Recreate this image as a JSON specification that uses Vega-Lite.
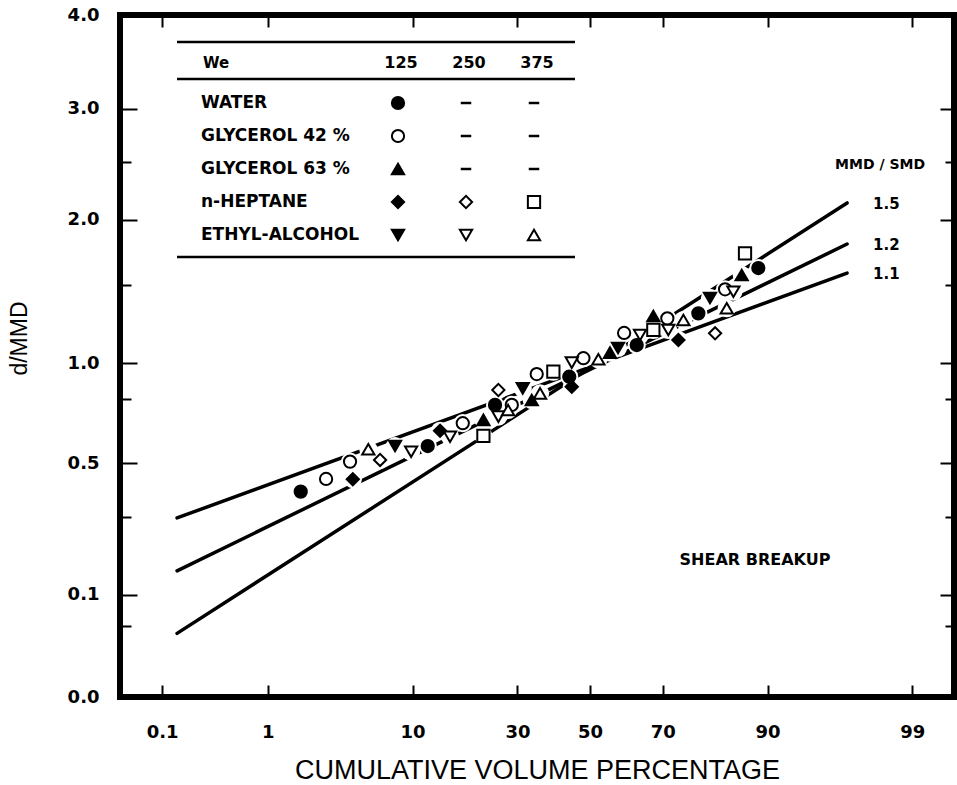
{
  "$schema": "https://vega.github.io/schema/vega-lite/v6.json",
  "width": 834,
  "height": 682,
  "autosize": {"type": "none"},
  "padding": {"left": 120, "top": 15, "right": 3, "bottom": 88},
  "background": "white",
  "config": {
    "view": {"stroke": "black", "strokeWidth": 6},
    "axis": {"grid": false, "domain": false, "tickColor": "black", "tickWidth": 2, "labelColor": "black", "titleColor": "black"}
  },
  "datasets": {
    "points": [
      {"series": "WATER 125", "z": -2.089, "d": 0.389},
      {"series": "WATER 125", "z": -1.172, "d": 0.574},
      {"series": "WATER 125", "z": -0.686, "d": 0.771},
      {"series": "WATER 125", "z": -0.150, "d": 0.922},
      {"series": "WATER 125", "z": 0.337, "d": 1.107},
      {"series": "WATER 125", "z": 0.782, "d": 1.309},
      {"series": "WATER 125", "z": 1.215, "d": 1.626},
      {"series": "GLYCEROL 42 % 125", "z": -1.906, "d": 0.437},
      {"series": "GLYCEROL 42 % 125", "z": -1.733, "d": 0.507},
      {"series": "GLYCEROL 42 % 125", "z": -0.919, "d": 0.680},
      {"series": "GLYCEROL 42 % 125", "z": -0.565, "d": 0.771},
      {"series": "GLYCEROL 42 % 125", "z": -0.385, "d": 0.937},
      {"series": "GLYCEROL 42 % 125", "z": -0.048, "d": 1.028},
      {"series": "GLYCEROL 42 % 125", "z": 0.246, "d": 1.182},
      {"series": "GLYCEROL 42 % 125", "z": 0.558, "d": 1.276},
      {"series": "GLYCEROL 42 % 125", "z": 0.975, "d": 1.473},
      {"series": "GLYCEROL 63 % 125", "z": -0.770, "d": 0.696},
      {"series": "GLYCEROL 63 % 125", "z": -0.421, "d": 0.796},
      {"series": "GLYCEROL 63 % 125", "z": 0.144, "d": 1.061},
      {"series": "GLYCEROL 63 % 125", "z": 0.457, "d": 1.291},
      {"series": "GLYCEROL 63 % 125", "z": 1.095, "d": 1.575},
      {"series": "n-HEPTANE 125", "z": -1.713, "d": 0.436},
      {"series": "n-HEPTANE 125", "z": -1.083, "d": 0.644},
      {"series": "n-HEPTANE 125", "z": -0.132, "d": 0.867},
      {"series": "n-HEPTANE 125", "z": 0.638, "d": 1.138},
      {"series": "n-HEPTANE 250", "z": -1.516, "d": 0.514},
      {"series": "n-HEPTANE 250", "z": -0.662, "d": 0.849},
      {"series": "n-HEPTANE 250", "z": 0.903, "d": 1.180},
      {"series": "n-HEPTANE 375", "z": -0.770, "d": 0.620},
      {"series": "n-HEPTANE 375", "z": -0.265, "d": 0.950},
      {"series": "n-HEPTANE 375", "z": 0.457, "d": 1.201},
      {"series": "n-HEPTANE 375", "z": 1.119, "d": 1.736},
      {"series": "ETHYL-ALCOHOL 125", "z": -1.408, "d": 0.574},
      {"series": "ETHYL-ALCOHOL 125", "z": -0.486, "d": 0.858},
      {"series": "ETHYL-ALCOHOL 125", "z": 0.202, "d": 1.089},
      {"series": "ETHYL-ALCOHOL 125", "z": 0.866, "d": 1.413},
      {"series": "ETHYL-ALCOHOL 250", "z": -1.292, "d": 0.549},
      {"series": "ETHYL-ALCOHOL 250", "z": -1.011, "d": 0.616},
      {"series": "ETHYL-ALCOHOL 250", "z": -0.662, "d": 0.712},
      {"series": "ETHYL-ALCOHOL 250", "z": -0.132, "d": 1.002},
      {"series": "ETHYL-ALCOHOL 250", "z": 0.361, "d": 1.169},
      {"series": "ETHYL-ALCOHOL 250", "z": 0.565, "d": 1.201},
      {"series": "ETHYL-ALCOHOL 250", "z": 1.035, "d": 1.456},
      {"series": "ETHYL-ALCOHOL 375", "z": -1.601, "d": 0.560},
      {"series": "ETHYL-ALCOHOL 375", "z": -0.592, "d": 0.745},
      {"series": "ETHYL-ALCOHOL 375", "z": -0.361, "d": 0.831},
      {"series": "ETHYL-ALCOHOL 375", "z": 0.060, "d": 1.022},
      {"series": "ETHYL-ALCOHOL 375", "z": 0.674, "d": 1.265},
      {"series": "ETHYL-ALCOHOL 375", "z": 0.987, "d": 1.343}
    ],
    "curves": [
      {"ratio": "1.5", "end": "left", "z": -2.982, "d": 0.040},
      {"ratio": "1.5", "end": "right", "z": 1.856, "d": 2.139},
      {"ratio": "1.2", "end": "left", "z": -2.982, "d": 0.151},
      {"ratio": "1.2", "end": "right", "z": 1.856, "d": 1.807},
      {"ratio": "1.1", "end": "left", "z": -2.982, "d": 0.298},
      {"ratio": "1.1", "end": "right", "z": 1.856, "d": 1.589}
    ],
    "legend_cells": [
      {"liquid": "WATER", "we": "125", "series": "WATER 125"},
      {"liquid": "GLYCEROL 42 %", "we": "125", "series": "GLYCEROL 42 % 125"},
      {"liquid": "GLYCEROL 63 %", "we": "125", "series": "GLYCEROL 63 % 125"},
      {"liquid": "n-HEPTANE", "we": "125", "series": "n-HEPTANE 125"},
      {"liquid": "n-HEPTANE", "we": "250", "series": "n-HEPTANE 250"},
      {"liquid": "n-HEPTANE", "we": "375", "series": "n-HEPTANE 375"},
      {"liquid": "ETHYL-ALCOHOL", "we": "125", "series": "ETHYL-ALCOHOL 125"},
      {"liquid": "ETHYL-ALCOHOL", "we": "250", "series": "ETHYL-ALCOHOL 250"},
      {"liquid": "ETHYL-ALCOHOL", "we": "375", "series": "ETHYL-ALCOHOL 375"}
    ],
    "legend_dashes": [
      {"liquid": "WATER", "we": "250"},
      {"liquid": "WATER", "we": "375"},
      {"liquid": "GLYCEROL 42 %", "we": "250"},
      {"liquid": "GLYCEROL 42 %", "we": "375"},
      {"liquid": "GLYCEROL 63 %", "we": "250"},
      {"liquid": "GLYCEROL 63 %", "we": "375"}
    ],
    "legend_header": [
      {"we": "125"},
      {"we": "250"},
      {"we": "375"}
    ]
  },
  "layer": [
    {
      "layer": [
        {
          "data": {"name": "curves"},
          "mark": {"type": "line", "color": "black", "strokeWidth": 3.5, "strokeCap": "round"},
          "encoding": {
            "x": {
              "field": "z", "type": "quantitative",
              "scale": {"domain": [-3.394, 2.628], "nice": false, "zero": false},
              "axis": {
                "orient": "bottom",
                "values": [-3.0902, -2.3263, -1.2816, -0.5244, 0, 0.5244, 1.2816, 2.3263],
                "labelExpr": "datum.value < -3 ? '0.1' : datum.value < -2 ? '1' : datum.value < -1 ? '10' : datum.value < -0.2 ? '30' : datum.value < 0.2 ? '50' : datum.value < 1 ? '70' : datum.value < 2 ? '90' : '99'",
                "tickSize": -12,
                "labelPadding": 38,
                "labelFont": "DejaVu Sans",
                "labelFontWeight": "bold",
                "labelFontSize": 18,
                "labelFlush": false,
                "labelOverlap": false,
                "title": "CUMULATIVE VOLUME PERCENTAGE",
                "titleFont": "Liberation Sans",
                "titleFontWeight": "normal",
                "titleFontSize": 27,
                "titlePadding": 16
              }
            },
            "y": {
              "field": "d", "type": "quantitative",
              "scale": {"type": "pow", "exponent": 0.515, "domain": [0, 4], "nice": false, "zero": false},
              "axis": {
                "orient": "left",
                "values": [0, 0.05, 0.1, 0.3, 0.5, 0.8, 1, 1.5, 2, 2.5, 3, 4],
                "labelExpr": "indexof([0.05, 0.3, 0.8, 1.5, 2.5], datum.value) >= 0 ? '' : format(datum.value, '.1f')",
                "tickSize": {"condition": {"test": "indexof([0.05, 0.3, 0.8, 1.5, 2.5], datum.value) >= 0", "value": -11}, "value": -17},
                "labelPadding": 38,
                "labelFont": "DejaVu Sans",
                "labelFontWeight": "bold",
                "labelFontSize": 18,
                "labelFlush": false,
                "labelOverlap": false,
                "title": "d/MMD",
                "titleFont": "Liberation Sans",
                "titleFontWeight": "normal",
                "titleFontSize": 23,
                "titlePadding": 36,
                "titleY": 323
              }
            },
            "detail": {"field": "ratio"}
          }
        },
        {
          "data": {"name": "points"},
          "mark": {"type": "point", "filled": true, "fill": "white", "size": 330, "shape": "circle", "opacity": 1},
          "encoding": {
            "x": {"field": "z", "type": "quantitative", "scale": {"domain": [-3.394, 2.628], "nice": false, "zero": false}, "axis": null},
            "y": {"field": "d", "type": "quantitative", "scale": {"type": "pow", "exponent": 0.515, "domain": [0, 4], "nice": false, "zero": false}, "axis": null}
          }
        },
        {
          "data": {"name": "points"},
          "mark": {"type": "point", "filled": true, "stroke": "black", "strokeWidth": 2, "size": 150, "opacity": 1},
          "encoding": {
            "x": {
              "field": "z", "type": "quantitative",
              "scale": {"domain": [-3.394, 2.628], "nice": false, "zero": false},
              "axis": {
                "orient": "top",
                "values": [-3.0902, -2.3263, -1.2816, -0.5244, 0, 0.5244, 1.2816, 2.3263],
                "labels": false,
                "tickSize": -12,
                "title": null
              }
            },
            "y": {
              "field": "d", "type": "quantitative",
              "scale": {"type": "pow", "exponent": 0.515, "domain": [0, 4], "nice": false, "zero": false},
              "axis": {
                "orient": "right",
                "values": [0, 0.05, 0.1, 0.3, 0.5, 0.8, 1, 1.5, 2, 2.5, 3, 4],
                "labels": false,
                "tickSize": {"condition": {"test": "indexof([0.05, 0.3, 0.8, 1.5, 2.5], datum.value) >= 0", "value": -9}, "value": -14},
                "title": null
              }
            },
            "shape": {
              "field": "series", "type": "nominal", "legend": null,
              "scale": {
                "domain": ["WATER 125", "GLYCEROL 42 % 125", "GLYCEROL 63 % 125", "n-HEPTANE 125", "n-HEPTANE 250", "n-HEPTANE 375", "ETHYL-ALCOHOL 125", "ETHYL-ALCOHOL 250", "ETHYL-ALCOHOL 375"],
                "range": ["circle", "circle", "triangle-up", "diamond", "diamond", "square", "triangle-down", "triangle-down", "triangle-up"]
              }
            },
            "fill": {
              "field": "series", "type": "nominal", "legend": null,
              "scale": {
                "domain": ["WATER 125", "GLYCEROL 42 % 125", "GLYCEROL 63 % 125", "n-HEPTANE 125", "n-HEPTANE 250", "n-HEPTANE 375", "ETHYL-ALCOHOL 125", "ETHYL-ALCOHOL 250", "ETHYL-ALCOHOL 375"],
                "range": ["black", "white", "black", "black", "white", "white", "black", "white", "white"]
              }
            }
          }
        },
        {
          "data": {"name": "curves"},
          "transform": [{"filter": "datum.end == 'right'"}],
          "mark": {"type": "text", "align": "left", "baseline": "middle", "dx": 26, "dy": 1, "font": "DejaVu Sans", "fontWeight": "bold", "fontSize": 15, "color": "black"},
          "encoding": {
            "x": {"field": "z", "type": "quantitative", "scale": {"domain": [-3.394, 2.628], "nice": false, "zero": false}, "axis": null},
            "y": {"field": "d", "type": "quantitative", "scale": {"type": "pow", "exponent": 0.515, "domain": [0, 4], "nice": false, "zero": false}, "axis": null},
            "text": {"field": "ratio"}
          }
        },
        {
          "data": {"values": [{"label": "MMD / SMD"}]},
          "mark": {"type": "text", "align": "center", "baseline": "middle", "font": "DejaVu Sans", "fontWeight": "bold", "fontSize": 14, "color": "black"},
          "encoding": {
            "x": {"datum": 2.094, "type": "quantitative", "scale": {"domain": [-3.394, 2.628], "nice": false, "zero": false}, "axis": null},
            "y": {"datum": 2.47, "type": "quantitative", "scale": {"type": "pow", "exponent": 0.515, "domain": [0, 4], "nice": false, "zero": false}, "axis": null},
            "text": {"field": "label"}
          }
        },
        {
          "data": {"values": [{"label": "SHEAR  BREAKUP"}]},
          "mark": {"type": "text", "align": "center", "baseline": "middle", "font": "DejaVu Sans", "fontWeight": "bold", "fontSize": 16, "color": "black"},
          "encoding": {
            "x": {"datum": 1.191, "type": "quantitative", "scale": {"domain": [-3.394, 2.628], "nice": false, "zero": false}, "axis": null},
            "y": {"datum": 0.177, "type": "quantitative", "scale": {"type": "pow", "exponent": 0.515, "domain": [0, 4], "nice": false, "zero": false}, "axis": null},
            "text": {"field": "label"}
          }
        }
      ],
      "resolve": {"axis": {"x": "independent", "y": "independent"}}
    },
    {
      "layer": [
        {
          "data": {"values": [{}]},
          "mark": {"type": "rule", "color": "black", "strokeWidth": 2.5, "xOffset": -221, "x2Offset": 41, "yOffset": -61},
          "encoding": {
            "x": {"datum": "125", "type": "ordinal", "scale": {"type": "point", "domain": ["125", "250", "375"], "range": [278, 414], "padding": 0}, "axis": null},
            "x2": {"datum": "375"},
            "y": {"datum": "WATER", "type": "ordinal", "scale": {"type": "point", "domain": ["WATER", "GLYCEROL 42 %", "GLYCEROL 63 %", "n-HEPTANE", "ETHYL-ALCOHOL"], "range": [88, 220], "padding": 0}, "axis": null}
          }
        },
        {
          "data": {"values": [{}]},
          "mark": {"type": "rule", "color": "black", "strokeWidth": 2.5, "xOffset": -221, "x2Offset": 41, "yOffset": -24},
          "encoding": {
            "x": {"datum": "125", "type": "ordinal", "scale": {"type": "point", "domain": ["125", "250", "375"], "range": [278, 414], "padding": 0}, "axis": null},
            "x2": {"datum": "375"},
            "y": {"datum": "WATER", "type": "ordinal", "scale": {"type": "point", "domain": ["WATER", "GLYCEROL 42 %", "GLYCEROL 63 %", "n-HEPTANE", "ETHYL-ALCOHOL"], "range": [88, 220], "padding": 0}, "axis": null}
          }
        },
        {
          "data": {"values": [{}]},
          "mark": {"type": "rule", "color": "black", "strokeWidth": 2.5, "xOffset": -221, "x2Offset": 41, "yOffset": 22},
          "encoding": {
            "x": {"datum": "125", "type": "ordinal", "scale": {"type": "point", "domain": ["125", "250", "375"], "range": [278, 414], "padding": 0}, "axis": null},
            "x2": {"datum": "375"},
            "y": {"datum": "ETHYL-ALCOHOL", "type": "ordinal", "scale": {"type": "point", "domain": ["WATER", "GLYCEROL 42 %", "GLYCEROL 63 %", "n-HEPTANE", "ETHYL-ALCOHOL"], "range": [88, 220], "padding": 0}, "axis": null}
          }
        },
        {
          "data": {"values": [{"label": "We"}]},
          "mark": {"type": "text", "align": "left", "baseline": "middle", "dx": -195, "dy": -40, "font": "DejaVu Sans", "fontWeight": "bold", "fontSize": 15, "color": "black"},
          "encoding": {
            "x": {"datum": "125", "type": "ordinal", "scale": {"type": "point", "domain": ["125", "250", "375"], "range": [278, 414], "padding": 0}, "axis": null},
            "y": {"datum": "WATER", "type": "ordinal", "scale": {"type": "point", "domain": ["WATER", "GLYCEROL 42 %", "GLYCEROL 63 %", "n-HEPTANE", "ETHYL-ALCOHOL"], "range": [88, 220], "padding": 0}, "axis": null},
            "text": {"field": "label"}
          }
        },
        {
          "data": {"name": "legend_header"},
          "mark": {"type": "text", "align": "center", "baseline": "middle", "dx": 3, "dy": -40, "font": "DejaVu Sans", "fontWeight": "bold", "fontSize": 16, "color": "black"},
          "encoding": {
            "x": {"field": "we", "type": "ordinal", "scale": {"type": "point", "domain": ["125", "250", "375"], "range": [278, 414], "padding": 0}, "axis": null},
            "y": {"datum": "WATER", "type": "ordinal", "scale": {"type": "point", "domain": ["WATER", "GLYCEROL 42 %", "GLYCEROL 63 %", "n-HEPTANE", "ETHYL-ALCOHOL"], "range": [88, 220], "padding": 0}, "axis": null},
            "text": {"field": "we"}
          }
        },
        {
          "data": {"name": "legend_cells"},
          "transform": [{"filter": "datum.we == '125'"}],
          "mark": {"type": "text", "align": "left", "baseline": "middle", "dx": -197, "font": "DejaVu Sans", "fontWeight": "bold", "fontSize": 17, "color": "black"},
          "encoding": {
            "x": {"field": "we", "type": "ordinal", "scale": {"type": "point", "domain": ["125", "250", "375"], "range": [278, 414], "padding": 0}, "axis": null},
            "y": {"field": "liquid", "type": "ordinal", "scale": {"type": "point", "domain": ["WATER", "GLYCEROL 42 %", "GLYCEROL 63 %", "n-HEPTANE", "ETHYL-ALCOHOL"], "range": [88, 220], "padding": 0}, "axis": null},
            "text": {"field": "liquid"}
          }
        },
        {
          "data": {"name": "legend_dashes"},
          "mark": {"type": "point", "shape": "stroke", "size": 110, "stroke": "black", "strokeWidth": 2.5, "opacity": 1},
          "encoding": {
            "x": {"field": "we", "type": "ordinal", "scale": {"type": "point", "domain": ["125", "250", "375"], "range": [278, 414], "padding": 0}, "axis": null},
            "y": {"field": "liquid", "type": "ordinal", "scale": {"type": "point", "domain": ["WATER", "GLYCEROL 42 %", "GLYCEROL 63 %", "n-HEPTANE", "ETHYL-ALCOHOL"], "range": [88, 220], "padding": 0}, "axis": null}
          }
        },
        {
          "data": {"name": "legend_cells"},
          "mark": {"type": "point", "filled": true, "stroke": "black", "strokeWidth": 2, "size": 150, "opacity": 1},
          "encoding": {
            "x": {"field": "we", "type": "ordinal", "scale": {"type": "point", "domain": ["125", "250", "375"], "range": [278, 414], "padding": 0}, "axis": null},
            "y": {"field": "liquid", "type": "ordinal", "scale": {"type": "point", "domain": ["WATER", "GLYCEROL 42 %", "GLYCEROL 63 %", "n-HEPTANE", "ETHYL-ALCOHOL"], "range": [88, 220], "padding": 0}, "axis": null},
            "shape": {
              "field": "series", "type": "nominal", "legend": null,
              "scale": {
                "domain": ["WATER 125", "GLYCEROL 42 % 125", "GLYCEROL 63 % 125", "n-HEPTANE 125", "n-HEPTANE 250", "n-HEPTANE 375", "ETHYL-ALCOHOL 125", "ETHYL-ALCOHOL 250", "ETHYL-ALCOHOL 375"],
                "range": ["circle", "circle", "triangle-up", "diamond", "diamond", "square", "triangle-down", "triangle-down", "triangle-up"]
              }
            },
            "fill": {
              "field": "series", "type": "nominal", "legend": null,
              "scale": {
                "domain": ["WATER 125", "GLYCEROL 42 % 125", "GLYCEROL 63 % 125", "n-HEPTANE 125", "n-HEPTANE 250", "n-HEPTANE 375", "ETHYL-ALCOHOL 125", "ETHYL-ALCOHOL 250", "ETHYL-ALCOHOL 375"],
                "range": ["black", "white", "black", "black", "white", "white", "black", "white", "white"]
              }
            }
          }
        }
      ]
    }
  ],
  "resolve": {"scale": {"x": "independent", "y": "independent"}}
}
